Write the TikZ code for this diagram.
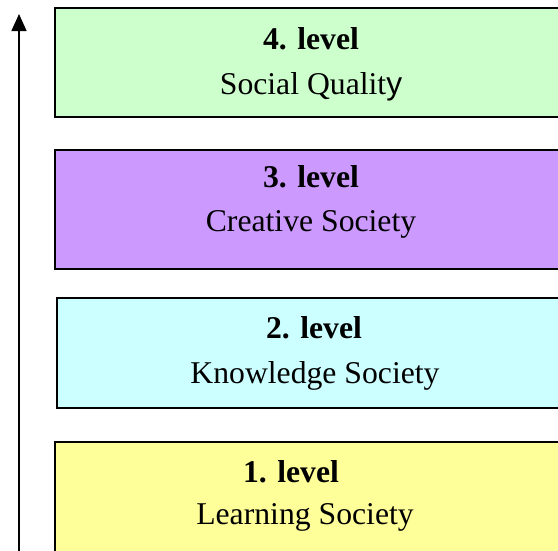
\documentclass[tikz,border=0pt]{standalone}
\usepackage{fontspec}
\setmainfont{Liberation Serif}
\newfontfamily\oddsans{Liberation Sans}
\usetikzlibrary{arrows.meta}
\definecolor{lvlgreen}{HTML}{CCFFCC}
\definecolor{lvlpurple}{HTML}{CC99FF}
\definecolor{lvlcyan}{HTML}{CCFFFF}
\definecolor{lvlyellow}{HTML}{FFFF99}
\tikzset{
  levelbox/.style={draw=black, line width=1.4pt},
  lvltitle/.style={anchor=base, inner sep=0pt, font=\fontsize{31.7}{38}\selectfont\bfseries},
  lvlname/.style={anchor=base, inner sep=0pt, font=\fontsize{31.7}{38}\selectfont},
}
\begin{document}
\begin{tikzpicture}[x=1pt,y=-1pt]
\useasboundingbox (0,0) rectangle (558,550);
\clip (0,0) rectangle (558,550);
% boxes
\path[levelbox, fill=lvlgreen]  (55,8)   rectangle (570,117);
\path[levelbox, fill=lvlpurple] (55,150) rectangle (570,269);
\path[levelbox, fill=lvlcyan]   (57,298) rectangle (572,408);
\path[levelbox, fill=lvlyellow] (55,442) rectangle (570,562);
% texts
\node[lvltitle] (t4) at (311,49)  {4. level};
\node[lvlname]  (n4) at (311,94)  {Social Qualit{\oddsans y}};
\node[lvltitle] (t3) at (311,187) {3. level};
\node[lvlname]  (n3) at (311,231) {Creative Society};
\node[lvltitle] (t2) at (314,338) {2. level};
\node[lvlname]  (n2) at (315,383) {Knowledge Society};
\node[lvltitle] (t1) at (291,482) {1. level};
\node[lvlname]  (n1) at (305,524) {Learning Society};
% arrow
\coordinate (abot) at (19,552);
\coordinate (atop) at (19,14);
\draw[line width=1.4pt, -{Triangle[length=17pt,width=15pt]}] (abot) -- (atop);
\end{tikzpicture}
\end{document}
